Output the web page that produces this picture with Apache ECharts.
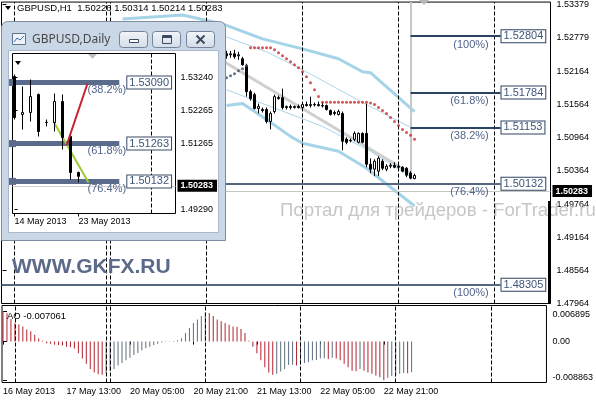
<!DOCTYPE html>
<html><head><meta charset="utf-8">
<script src="https://cdn.jsdelivr.net/npm/echarts@6/dist/echarts.min.js"></script>
<style>html,body{margin:0;padding:0;background:#fff}#c{width:596px;height:400px}</style>
</head><body><div id="c"></div>
<script>
// ---------------- DATA ----------------
const headerText = 'GBPUSD,H1  1.50226 1.50314 1.50214 1.50283';
const timeTicks = [0, 16, 32, 48, 64, 80, 96];
const timeLabels = ['16 May 2013', '17 May 13:00', '20 May 05:00', '20 May 21:00', '21 May 13:00', '22 May 05:00', '22 May 21:00'];
const daySeparators = [3, 26, 27, 51, 75, 99, 123];
const priceTicks = [1.47964, 1.48564, 1.49164, 1.49764, 1.50364, 1.50964, 1.51564, 1.52164, 1.52779, 1.53379];
const lastPrice = 1.50283;

// H1 candles (bar index from firstBar)
const firstBar = 56;
const open = [1.52486,1.52468,1.52486,1.52450,1.52396,1.52270,1.51801,1.51747,1.51495,1.51477,1.51477,1.51261,1.51441,1.51693,1.51693,1.51513,1.51531,1.51513,1.51531,1.51513,1.51567,1.51549,1.51567,1.51567,1.51549,1.51549,1.51459,1.51423,1.51387,1.51405,1.50937,1.50919,1.50937,1.50883,1.51045,1.51045,1.50486,1.50396,1.50360,1.50540,1.50396,1.50450,1.50468,1.50450,1.50432,1.50414,1.50324,1.50226];
const high = [1.52540,1.52540,1.52558,1.52522,1.52432,1.52306,1.51837,1.51783,1.51585,1.51513,1.51513,1.51441,1.51747,1.51729,1.51855,1.51549,1.51567,1.51549,1.51567,1.51603,1.51621,1.51711,1.51603,1.51621,1.51603,1.51567,1.51477,1.51459,1.51477,1.51441,1.50973,1.50955,1.51081,1.51063,1.51063,1.51585,1.50594,1.50576,1.50630,1.50576,1.50486,1.50504,1.50522,1.50486,1.50450,1.50432,1.50360,1.50314];
const low = [1.52396,1.52414,1.52396,1.52378,1.52270,1.51711,1.51639,1.51477,1.51405,1.51423,1.51225,1.51117,1.51405,1.51657,1.51477,1.51477,1.51477,1.51495,1.51495,1.51495,1.51531,1.51513,1.51531,1.51531,1.51513,1.51459,1.51369,1.51369,1.51369,1.50738,1.50847,1.50883,1.50901,1.50865,1.50865,1.50432,1.50324,1.50270,1.50270,1.50378,1.50360,1.50414,1.50414,1.50396,1.50342,1.50252,1.50216,1.50214];
const close = [1.52450,1.52486,1.52432,1.52468,1.52288,1.51801,1.51675,1.51495,1.51531,1.51459,1.51261,1.51405,1.51711,1.51675,1.51513,1.51531,1.51513,1.51531,1.51513,1.51567,1.51549,1.51567,1.51561,1.51549,1.51543,1.51477,1.51387,1.51405,1.51441,1.50901,1.50883,1.50913,1.51045,1.51045,1.50883,1.50486,1.50396,1.50540,1.50594,1.50414,1.50450,1.50468,1.50432,1.50432,1.50360,1.50288,1.50234,1.50283];

// Parabolic SAR
const sarAboveStart = 62;
const sarAbove = [1.52594,1.52594,1.52594,1.52594,1.52594,1.52594,1.52558,1.52504,1.52450,1.52396,1.52342,1.52288,1.52234,1.52162,1.52072,1.51964,1.51837,1.51711,1.51609,1.51609,1.51609,1.51609,1.51609,1.51609,1.51609,1.51609,1.51609,1.51609,1.51609,1.51609,1.51594,1.51567,1.51513,1.51459,1.51405,1.51333,1.51261,1.51189,1.51117,1.51063,1.51009,1.50937];
const sarBelowStart = 55;
const sarBelow = [1.52018,1.52054,1.52090,1.52126,1.52180,1.52216,1.52270];

// Channel lines: [bar, price]
const bandUpperOuter = [[30,1.53117],[45,1.53189],[55,1.53027],[65,1.52756],[75,1.52576],[84,1.52396],[90,1.52162],[92,1.52144],[103,1.51441]];
const bandUpperInner = [[45,1.52919],[56,1.52792],[66,1.52522],[75,1.52198],[91,1.51567],[103,1.51117]];
const bandLowerInner = [[56,1.51837],[67,1.51531],[80,1.51171],[92,1.50720],[103,1.50216]];
const bandLowerOuter = [[56,1.51549],[60,1.51585],[66,1.51297],[72,1.50991],[75,1.50865],[84,1.50720],[91,1.50414],[103,1.49729]];
const regressionLine = [[55,1.52360],[102,1.50324]];

// Fibonacci levels on H1
const fiboUpper = [[1.52804,'(100%)'],[1.51784,'(61.8%)'],[1.51153,'(38.2%)']];
const fiboLower = [[1.50132,'(76.4%)'],[1.48305,'(100%)']];

// Awesome Oscillator, one value per bar from bar 0
const aoName = 'AO -0.007061';
const aoTicks = [0.006895, 0, -0.008863];
const ao = [0.006895,0.0065,0.0052,0.0042,0.0040,0.0035,0.0028,0.0024,0.0016,0.0007,
 0.0002,-0.00035,-0.0005,-0.0007,-0.0008,-0.0009,-0.0012,-0.0013,-0.0016,-0.0027,
 -0.0039,-0.0051,-0.0063,-0.0071,-0.0075,-0.0076,-0.0074,-0.0068,-0.0063,-0.0055,
 -0.0049,-0.0043,-0.0037,-0.0031,-0.0026,-0.0020,-0.0015,-0.0012,-0.0008,-0.0005,
 -0.0002,-0.0001,0.0001,0.00015,0.0003,0.0008,0.0020,0.0031,0.0043,0.0051,
 0.0059,0.0067,0.0066,0.0059,0.0051,0.0047,0.0043,0.0039,0.0035,0.0034,
 0.0029,0.0020,0.0002,-0.0012,-0.0027,-0.0043,-0.0059,-0.0071,-0.0076,-0.0074,
 -0.0069,-0.0063,-0.0054,-0.0053,-0.0055,-0.0052,-0.0049,-0.0047,-0.0043,-0.0042,
 -0.0039,-0.0038,-0.0040,-0.0037,-0.0039,-0.0043,-0.0051,-0.0059,-0.0067,-0.0068,
 -0.0063,-0.0067,-0.0071,-0.0074,-0.0078,-0.0082,-0.008863,-0.0083,-0.0079,-0.0076,
 -0.0074,-0.0072,-0.0073,-0.007061];

// Daily inset
const dailyTitle = 'GBPUSD,Daily';
const dailyTicks = [0, 8];
const dailyLabels = ['14 May 2013', '23 May 2013'];
const dailyPriceTicks = [1.53240, 1.52265, 1.51265, 1.49290];
const dOpen  = [1.53270,1.52133,1.52193,1.52731,1.51893,1.51893,1.52522,1.51474,1.50397];
const dHigh  = [1.53330,1.52971,1.53180,1.52761,1.51983,1.52761,1.52731,1.51534,1.50427];
const dLow   = [1.51983,1.51684,1.51923,1.51474,1.51774,1.51624,1.51086,1.50188,1.50098];
const dClose = [1.52043,1.52193,1.52671,1.51624,1.51900,1.52522,1.51445,1.50397,1.50283];
const dailyFibo = [[1.53090,'(38.2%)'],[1.51263,'(61.8%)'],[1.50132,'(76.4%)']];
const dailySeparator = 17.125;
const dailyRedLine = [[6.5,1.51205],[9.125,1.53060]];
const dailyGreenLine = [[4.875,1.51923],[9.25,1.50098]];

// ---------------- BUILD ----------------
const FONT = 'Liberation Sans';
const NONE = 'rgba(0,0,0,0)';
const candleData = open.map((o, k) => [firstBar + k, o, close[k], low[k], high[k]]);
const sarAboveData = sarAbove.map((v, k) => [sarAboveStart + k, v]);
const sarBelowData = sarBelow.map((v, k) => [sarBelowStart + k, v]);
const aoData = ao.map((v, i) => ({
  value: [i, v],
  itemStyle: { color: (i > 0 && v > ao[i - 1]) ? '#5f6d7d' : '#b3212f' }
}));
const dailyData = dOpen.map((o, k) => [k, o, dClose[k], dLow[k], dHigh[k]]);

const FIB_COL = '#2c4262';
const boxLabel = (txt, border) => ({ show: true, position: 'end', distance: 1, formatter: txt, fontSize: 11, color: '#3d5579',
  backgroundColor: '#fff', borderColor: border, borderWidth: 1, padding: [1, 2, 0, 2], fontFamily: FONT });
const pctLabel = (txt, dist) => ({ show: true, position: 'insideEndBottom', distance: dist, formatter: txt, fontSize: 11, color: '#50658a', fontFamily: FONT });

const fibLines = [];
fiboUpper.forEach(([p, t]) => {
  fibLines.push([{ coord: [102, p], lineStyle: { color: FIB_COL, width: 2, type: 'solid' }, label: boxLabel(p.toFixed(5), FIB_COL) }, { coord: [124.5, p] }]);
  fibLines.push([{ coord: [102, p], lineStyle: { color: NONE, width: 1, type: 'solid' }, label: pctLabel(t, 3) }, { coord: [122.3, p] }]);
});
fiboLower.forEach(([p, t]) => {
  fibLines.push([{ coord: [-0.25, p], lineStyle: { color: '#56677f', width: 2, type: 'solid' }, label: boxLabel(p.toFixed(5), FIB_COL) }, { coord: [124.5, p] }]);
  fibLines.push([{ coord: [102, p], lineStyle: { color: NONE, width: 1, type: 'solid' }, label: pctLabel(t, 3) }, { coord: [122.3, p] }]);
});

const dailyFibLines = [];
dailyFibo.forEach(([p, t]) => {
  const lbl = boxLabel(p.toFixed(5), '#3a4a66'); lbl.distance = 8;
  dailyFibLines.push([{ coord: [-0.25, p], lineStyle: { color: '#5b6b8c', width: 5, type: 'solid' }, symbol: ['none', 'arrow'], symbolSize: 7, label: lbl },
    { coord: [13.1, p] }]);
  dailyFibLines.push([{ coord: [5, p], lineStyle: { color: NONE, width: 1, type: 'solid' }, label: pctLabel(t, 2) }, { coord: [14.2, p] }]);
});

const priceBox = (txt) => ({ show: true, position: 'end', distance: 2, formatter: txt, color: '#fff', backgroundColor: '#000',
  padding: [2, 4, 1, 3], fontSize: 9, fontWeight: 'bold', fontFamily: FONT });

const lineS = (data, color, width, z) => ({ type: 'line', xAxisIndex: 0, yAxisIndex: 0, data, showSymbol: false, symbol: 'none',
  lineStyle: { color, width }, z: z || 2, silent: true, animation: false });

const btn = (x) => ({ type: 'rect', shape: { x: x + 0.5, y: 31.5, width: 28, height: 16, r: 3 },
  style: { fill: { type: 'linear', x: 0, y: 0, x2: 0, y2: 1, colorStops: [{ offset: 0, color: '#f3f6fa' }, { offset: 1, color: '#d2dce8' }] }, stroke: '#72839b' }, z: 52 });

const aoLabelFmt = v => v === 0 ? '0.00' : (v > 0 ? '{t|' + v.toFixed(6) + '}' : '{b|' + v.toFixed(6) + '}');

const option = {
  animation: false,
  textStyle: { fontFamily: FONT },
  grid: [
    { left: 1.5, top: 0.5, width: 549, height: 303, show: true, borderColor: '#000', borderWidth: 1, backgroundColor: 'transparent' },
    { left: 1.5, top: 305.5, width: 549, height: 77, show: true, borderColor: '#000', borderWidth: 1, backgroundColor: 'transparent' },
    { left: 12.5, top: 53.5, width: 163, height: 160, show: true, borderColor: '#000', borderWidth: 1, backgroundColor: '#fff', z: 60 }
  ],
  xAxis: [
    { type: 'value', gridIndex: 0, min: -0.25, max: 137, show: false },
    { type: 'value', gridIndex: 1, min: -0.25, max: 137, axisLine: { show: false }, splitLine: { show: false },
      axisTick: { show: true, customValues: timeTicks, length: 3, lineStyle: { color: '#000' } },
      axisLabel: { customValues: timeTicks, formatter: v => timeLabels[timeTicks.indexOf(Math.round(v))] || '',
        align: 'left', margin: 5, fontSize: 9, color: '#000', fontFamily: FONT } },
    { type: 'value', gridIndex: 2, min: -0.25, max: 20.125, z: 60, axisLine: { show: false }, splitLine: { show: false },
      axisTick: { show: true, customValues: dailyTicks, length: 3, lineStyle: { color: '#000' } },
      axisLabel: { customValues: dailyTicks, formatter: v => dailyLabels[dailyTicks.indexOf(Math.round(v))] || '',
        align: 'left', margin: 4, fontSize: 9, color: '#000', fontFamily: FONT } }
  ],
  yAxis: [
    { type: 'value', gridIndex: 0, position: 'right', min: 1.47964, max: 1.53423, axisLine: { show: false }, splitLine: { show: false },
      axisTick: { show: true, customValues: priceTicks, length: 4, lineStyle: { color: '#000' } },
      axisLabel: { customValues: priceTicks, formatter: v => v.toFixed(5), margin: 6, fontSize: 9, color: '#000', fontFamily: FONT } },
    { type: 'value', gridIndex: 1, position: 'right', min: -0.0094, max: 0.0083, axisLine: { show: false }, splitLine: { show: false },
      axisTick: { show: true, customValues: aoTicks, length: 4, lineStyle: { color: '#000' } },
      axisLabel: { customValues: aoTicks, formatter: aoLabelFmt, margin: 6, fontSize: 9, color: '#000', fontFamily: FONT,
        rich: { t: { padding: [5, 0, 0, 0], fontSize: 9, color: '#000' }, b: { padding: [0, 0, 5, 0], fontSize: 9, color: '#000' } } } },
    { type: 'value', gridIndex: 2, position: 'right', min: 1.49171, max: 1.53958, z: 60, axisLine: { show: false }, splitLine: { show: false },
      axisTick: { show: true, customValues: dailyPriceTicks, length: 3, lineStyle: { color: '#000' } },
      axisLabel: { customValues: dailyPriceTicks, formatter: v => v.toFixed(5), margin: 5, fontSize: 9, color: '#000', fontFamily: FONT } }
  ],
  series: [
    lineS(regressionLine, '#cfcfcf', 3),
    lineS(bandUpperOuter, '#a5d3e8', 3),
    lineS(bandLowerOuter, '#a5d3e8', 3),
    lineS(bandUpperInner, '#a9d5ea', 1),
    lineS(bandLowerInner, '#a9d5ea', 1),
    {
      type: 'candlestick', xAxisIndex: 0, yAxisIndex: 0, data: candleData, encode: { x: 0, y: [1, 2, 3, 4] },
      barWidth: 3, z: 3, silent: true,
      itemStyle: { color: '#fff', color0: '#000', borderColor: '#000', borderColor0: '#000', borderWidth: 1 },
      markLine: {
        silent: true, symbol: ['none', 'none'], animation: false, z: 3,
        data: [
          ...daySeparators.map(v => ({ xAxis: v, lineStyle: { color: '#000', width: 1, type: [4, 2] }, label: { show: false } })),
          { yAxis: lastPrice, lineStyle: { color: '#c6c6c6', width: 1, type: 'solid' }, label: priceBox(lastPrice.toFixed(5)) },
          [{ coord: [102, 1.53423], lineStyle: { color: '#c8c8c8', width: 2, type: 'solid' }, label: { show: false } }, { coord: [102, 1.50214] }],
          [{ coord: [136.8, 1.49820], lineStyle: { color: '#000', width: 3, type: 'solid' }, label: { show: false } }, { coord: [136.8, 1.47964] }],
          ...fibLines
        ]
      }
    },
    { type: 'scatter', xAxisIndex: 0, yAxisIndex: 0, data: sarAboveData, symbolSize: 3, itemStyle: { color: '#cc2a2a' }, z: 4, silent: true },
    { type: 'scatter', xAxisIndex: 0, yAxisIndex: 0, data: sarBelowData, symbolSize: 3, itemStyle: { color: '#3d4d66' }, z: 4, silent: true },
    {
      type: 'bar', xAxisIndex: 1, yAxisIndex: 1, data: aoData, barWidth: 1, silent: true,
      markLine: {
        silent: true, symbol: ['none', 'none'], animation: false, label: { show: false },
        data: daySeparators.map(v => ({ xAxis: v, lineStyle: { color: '#000', width: 1, type: [4, 2] } }))
      }
    },
    // daily inset
    { type: 'line', xAxisIndex: 2, yAxisIndex: 2, data: dailyGreenLine, showSymbol: false, symbol: 'none', lineStyle: { color: '#9acd32', width: 2 }, z: 62, silent: true },
    {
      type: 'candlestick', xAxisIndex: 2, yAxisIndex: 2, data: dailyData, encode: { x: 0, y: [1, 2, 3, 4] },
      barWidth: 3, z: 63, silent: true,
      itemStyle: { color: '#fff', color0: '#000', borderColor: '#000', borderColor0: '#000', borderWidth: 1 },
      markLine: {
        silent: true, symbol: ['none', 'none'], animation: false, z: 61,
        data: [
          { xAxis: dailySeparator, lineStyle: { color: '#000', width: 1, type: [4, 2] }, label: { show: false } },
          { yAxis: lastPrice, lineStyle: { color: '#d0d0d0', width: 1, type: 'solid' }, label: priceBox(lastPrice.toFixed(5)) },
          ...dailyFibLines
        ]
      }
    },
    { type: 'line', xAxisIndex: 2, yAxisIndex: 2, data: dailyRedLine, showSymbol: false, symbol: 'none', lineStyle: { color: '#c8202c', width: 2 }, z: 64, silent: true }
  ],
  graphic: { elements: [
    // watermarks & header
    { type: 'text', z: 1, style: { x: 280, y: 211, text: 'Портал для трейдеров - ForTrader.ru', fontSize: 18.6, fontFamily: FONT, fill: '#c6c6c6', verticalAlign: 'middle' } },
    { type: 'text', z: 5, style: { x: 12, y: 267, text: 'WWW.GKFX.RU', fontSize: 21, fontWeight: 'bold', fontFamily: FONT, fill: '#5c6a8a', verticalAlign: 'middle' } },
    { type: 'polygon', z: 5, shape: { points: [[5, 6], [11, 6], [8, 10]] }, style: { fill: '#000' } },
    { type: 'text', z: 5, style: { x: 17, y: 8.5, text: headerText, fontSize: 9.5, fontFamily: FONT, fill: '#000', verticalAlign: 'middle' } },
    { type: 'polygon', z: 5, shape: { points: [[419, 0], [429, 0], [424, 5]] }, style: { fill: '#b8b8b8' } },
    { type: 'text', z: 5, style: { x: 7, y: 316, text: aoName, fontSize: 9.5, fontFamily: FONT, fill: '#000', verticalAlign: 'middle' } },
    // inset window chrome
    { type: 'rect', z: 50, shape: { x: 1.5, y: 21.5, width: 224, height: 219, r: [6, 6, 0, 0] }, style: { fill: '#c9d7e6', stroke: '#7c8da3', lineWidth: 1 } },
    { type: 'rect', z: 51, shape: { x: 8.5, y: 50.5, width: 210, height: 182 }, style: { fill: '#ffffff', stroke: '#a9b8ca' } },
    { type: 'rect', z: 52, shape: { x: 12.5, y: 33.5, width: 13, height: 11 }, style: { fill: '#eef3f8', stroke: '#5d7391' } },
    { type: 'polyline', z: 53, shape: { points: [[14, 42], [17, 38], [20, 40], [24, 36]] }, style: { stroke: '#3c6fb0', lineWidth: 1 } },
    { type: 'text', z: 52, style: { x: 32, y: 40, text: dailyTitle, fontSize: 12, fontFamily: 'Noto Sans', fill: '#484848', verticalAlign: 'middle' } },
    btn(119), btn(152), btn(186),
    { type: 'rect', z: 53, shape: { x: 129.5, y: 39.5, width: 9, height: 3 }, style: { fill: '#fff', stroke: '#3b4a5e' } },
    { type: 'rect', z: 53, shape: { x: 162.5, y: 35.5, width: 9, height: 8 }, style: { fill: 'none', stroke: '#3b4a5e', lineWidth: 1 } },
    { type: 'rect', z: 53, shape: { x: 163, y: 36, width: 8, height: 2 }, style: { fill: '#3b4a5e' } },
    { type: 'line', z: 53, shape: { x1: 196.5, y1: 35.5, x2: 204.5, y2: 43.5 }, style: { stroke: '#3b4a5e', lineWidth: 2 } },
    { type: 'line', z: 53, shape: { x1: 204.5, y1: 35.5, x2: 196.5, y2: 43.5 }, style: { stroke: '#3b4a5e', lineWidth: 2 } },
    { type: 'polygon', z: 70, shape: { points: [[15, 61], [21, 61], [18, 65]] }, style: { fill: '#000' } },
    { type: 'polygon', z: 70, shape: { points: [[88, 54], [97, 54], [92.5, 59]] }, style: { fill: '#c0c0c0' } }
  ] }
};

const chart = echarts.init(document.getElementById('c'), null, { renderer: 'canvas' });
chart.setOption(option);
</script>
</body></html>
